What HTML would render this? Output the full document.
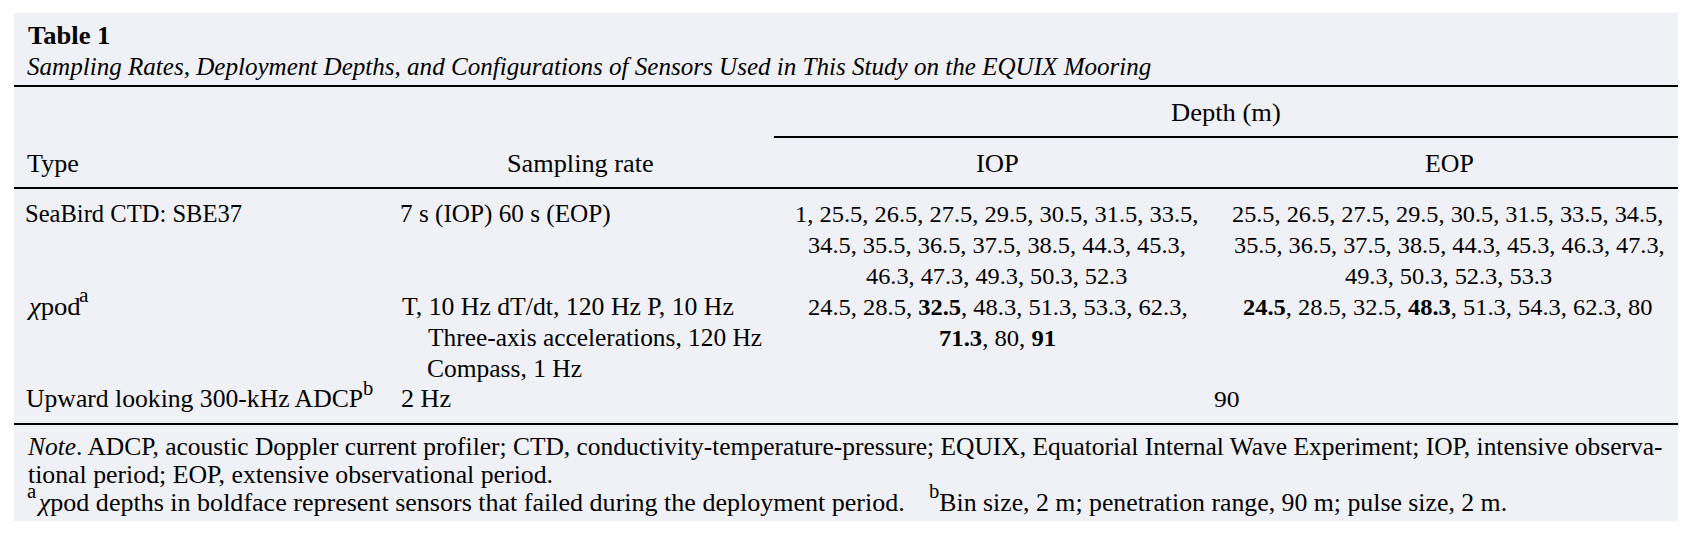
<!DOCTYPE html><html><head><meta charset="utf-8"><title>Table 1</title><style>

*{margin:0;padding:0;box-sizing:border-box}
html,body{width:1692px;height:538px;background:#fff;overflow:hidden}
body{position:relative;font-family:"Liberation Serif",serif;color:#000}
.box{position:absolute;left:14px;top:13px;width:1664px;height:508px;background:#f0f1f6}
.r{position:absolute;height:2px;background:#000}
.t{position:absolute;white-space:nowrap;line-height:30px;transform-origin:0 0}
.b{font-weight:bold}
.i{font-style:italic}
.sup{position:relative;line-height:0}
.bm{display:inline-block;width:0;height:0}

</style></head><body>
<div class="box"></div>
<div class="r" style="left:14px;top:85px;width:1664px"></div>
<div class="r" style="left:774px;top:136px;width:904px"></div>
<div class="r" style="left:14px;top:187px;width:1664px"></div>
<div class="r" style="left:14px;top:423px;width:1664px"></div>
<div class="t b" id="t1" style="left:27.98px;top:21.21px;font-size:25.5px;transform:scaleX(1.0399)">Table 1</div>
<div class="t i" id="t2" style="left:27.20px;top:51.81px;font-size:25px;transform:scaleX(1.0026)">Sampling Rates, Deployment Depths, and Configurations of Sensors Used in This Study on the EQUIX Mooring</div>
<div class="t" id="hd" style="left:1171.34px;top:97.71px;font-size:25px;transform:scaleX(1.0609)">Depth (m)</div>
<div class="t" id="ht" style="left:27.39px;top:148.91px;font-size:25px;transform:scaleX(1.0453)">Type</div>
<div class="t" id="hs" style="left:506.53px;top:149.01px;font-size:25px;transform:scaleX(1.0508)">Sampling rate</div>
<div class="t" id="hi" style="left:975.75px;top:148.81px;font-size:25px;transform:scaleX(1.0648)">IOP</div>
<div class="t" id="he" style="left:1424.79px;top:148.81px;font-size:25px;transform:scaleX(1.0332)">EOP</div>
<div class="t" id="r0c0" style="left:25.40px;top:198.81px;font-size:25px;transform:scaleX(0.9828)">SeaBird CTD: SBE37</div>
<div class="t" id="r0c1" style="left:399.77px;top:198.81px;font-size:25px;transform:scaleX(1.0076)">7 s (IOP) 60 s (EOP)</div>
<div class="t" id="r0c2" style="left:794.73px;top:198.81px;font-size:23.5px;transform:scaleX(1.0403)">1, 25.5, 26.5, 27.5, 29.5, 30.5, 31.5, 33.5,</div>
<div class="t" id="r1c2" style="left:808.14px;top:229.91px;font-size:23.5px;transform:scaleX(1.0373)">34.5, 35.5, 36.5, 37.5, 38.5, 44.3, 45.3,</div>
<div class="t" id="r2c2" style="left:866.39px;top:260.91px;font-size:23.5px;transform:scaleX(1.0345)">46.3, 47.3, 49.3, 50.3, 52.3</div>
<div class="t" id="r0c3" style="left:1232.36px;top:198.81px;font-size:23.5px;transform:scaleX(1.0338)">25.5, 26.5, 27.5, 29.5, 30.5, 31.5, 33.5, 34.5,</div>
<div class="t" id="r1c3" style="left:1233.58px;top:229.91px;font-size:23.5px;transform:scaleX(1.0323)">35.5, 36.5, 37.5, 38.5, 44.3, 45.3, 46.3, 47.3,</div>
<div class="t" id="r2c3" style="left:1345.00px;top:260.91px;font-size:23.5px;transform:scaleX(1.0367)">49.3, 50.3, 52.3, 53.3</div>
<div class="t" id="r3c0" style="left:28.52px;top:291.71px;font-size:25px;transform:scaleX(1.0652)"><i>χ</i>pod<span class="sup" style="font-size:20px;top:-13px;margin-left:-1.5px">a</span></div>
<div class="t" id="r3c1" style="left:401.80px;top:291.71px;font-size:25px;transform:scaleX(1.0291)">T, 10 Hz dT/dt, 120 Hz P, 10 Hz</div>
<div class="t" id="r3c2" style="left:807.79px;top:291.71px;font-size:23.5px;transform:scaleX(1.0420)">24.5, 28.5, <b>32.5</b>, 48.3, 51.3, 53.3, 62.3,</div>
<div class="t" id="r3c3" style="left:1243.37px;top:291.71px;font-size:23.5px;transform:scaleX(1.0403)"><b>24.5</b>, 28.5, 32.5, <b>48.3</b>, 51.3, 54.3, 62.3, 80</div>
<div class="t" id="r4c1" style="left:427.58px;top:322.71px;font-size:25px;transform:scaleX(1.0156)">Three-axis accelerations, 120 Hz</div>
<div class="t" id="r4c2" style="left:938.72px;top:322.71px;font-size:23.5px;transform:scaleX(1.0487)"><b>71.3</b>, 80, <b>91</b></div>
<div class="t" id="r5c1" style="left:426.59px;top:353.60px;font-size:25px;transform:scaleX(1.0193)">Compass, 1 Hz</div>
<div class="t" id="r6c0" style="left:26.39px;top:384.41px;font-size:25px;transform:scaleX(1.0261)">Upward looking 300-kHz ADCP<span class="sup" style="font-size:20px;top:-12.6px">b</span></div>
<div class="t" id="r6c1" style="left:400.73px;top:384.41px;font-size:25px;transform:scaleX(1.0459)">2 Hz</div>
<div class="t" id="r6c2" style="left:1213.52px;top:384.41px;font-size:23.5px;transform:scaleX(1.0877)">90</div>
<div class="t" id="n1" style="left:28.21px;top:432.10px;font-size:25px;transform:scaleX(1.0181)"><i>Note</i>. ADCP, acoustic Doppler current profiler; CTD, conductivity-temperature-pressure; EQUIX, Equatorial Internal Wave Experiment; IOP, intensive observa-</div>
<div class="t" id="n2" style="left:28.18px;top:459.51px;font-size:25px;transform:scaleX(1.0317)">tional period; EOP, extensive observational period.</div>
<div class="t" id="n3a" style="left:27.17px;top:487.51px;font-size:25px;transform:scaleX(1.0413)"><span class="sup" style="font-size:20px;top:-12.8px">a</span><i style="margin-left:2.5px">χ</i>pod depths in boldface represent sensors that failed during the deployment period.</div>
<div class="t" id="n3b" style="left:928.77px;top:487.51px;font-size:25px;transform:scaleX(1.0313)"><span class="sup" style="font-size:20px;top:-12.8px">b</span>Bin size, 2 m; penetration range, 90 m; pulse size, 2 m.</div>
</body></html>
